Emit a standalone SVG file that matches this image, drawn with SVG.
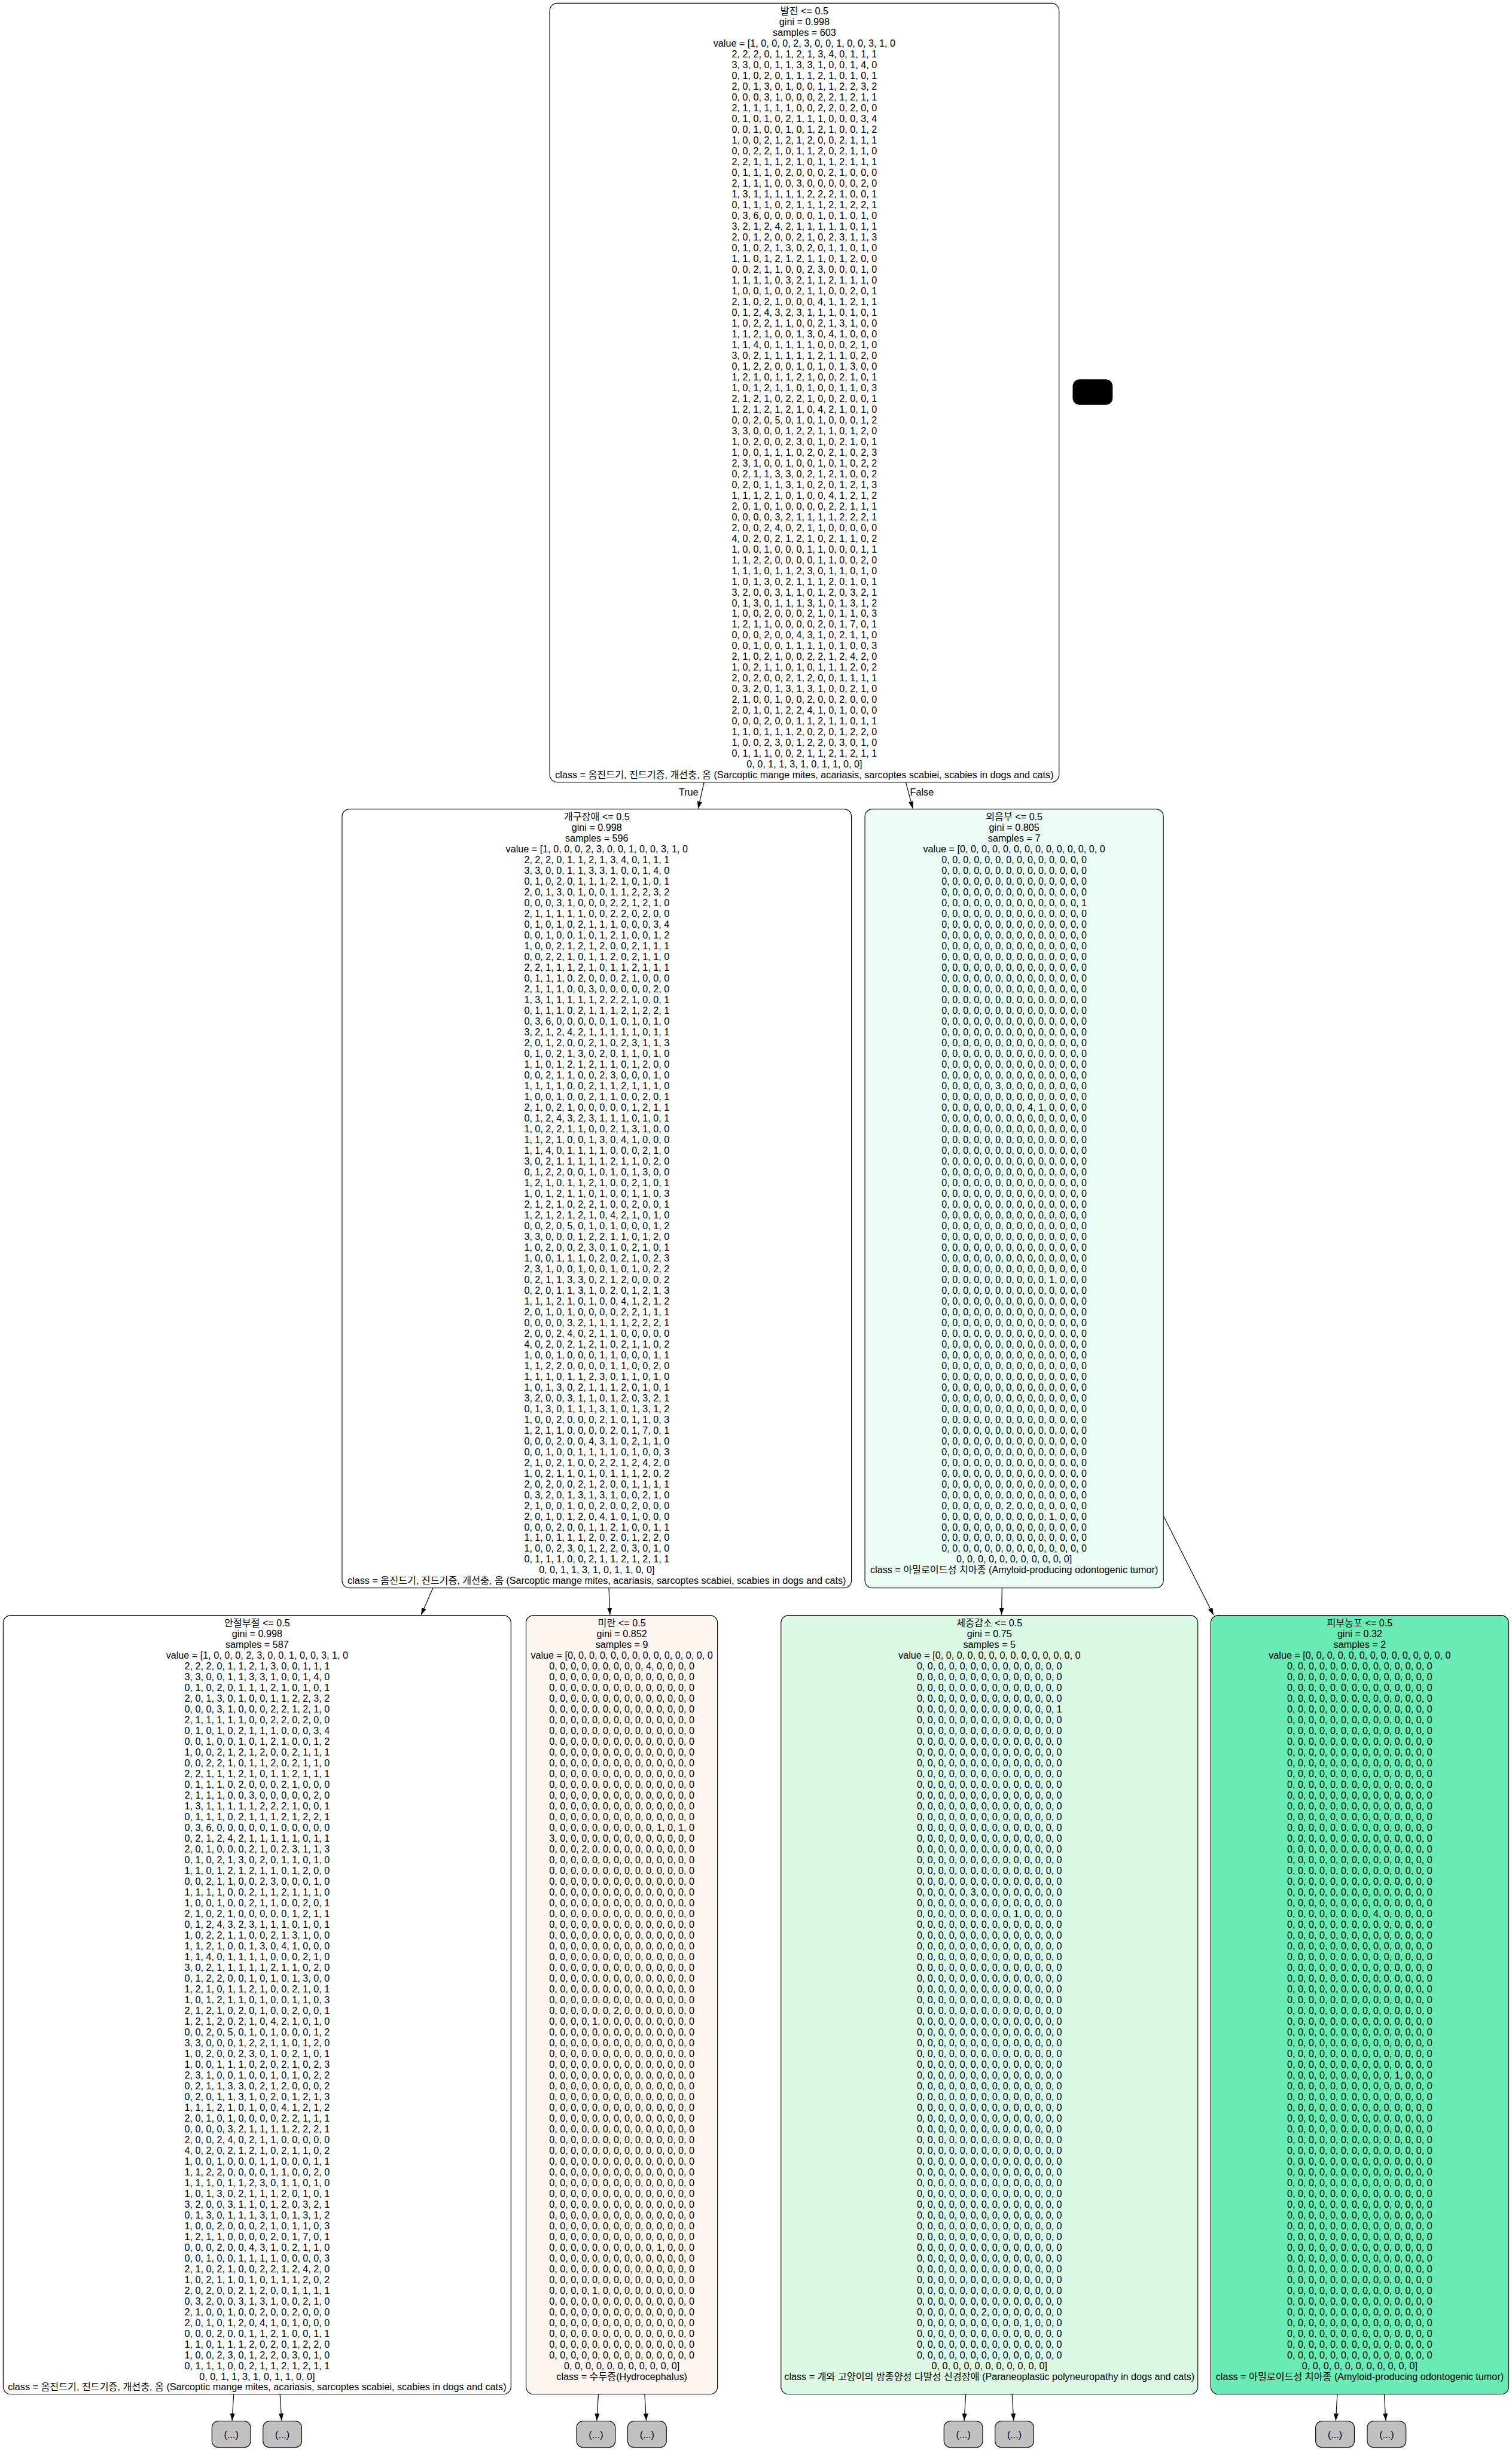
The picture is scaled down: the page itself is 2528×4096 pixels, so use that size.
<svg xmlns="http://www.w3.org/2000/svg" width="2528" height="4096" viewBox="0 0 2528 4096">
<style>
.t{font-family:"Liberation Sans","Noto Sans CJK KR",sans-serif;font-size:18px;text-anchor:middle;fill:#000}
.lb{font-family:"Liberation Sans","Noto Sans CJK KR",sans-serif;font-size:18px;fill:#000}
.nb{stroke:#000;stroke-width:1.3}
.gr{fill:#c0c0c0;stroke:#000;stroke-width:1.3}
.e{stroke:#000;stroke-width:1.3;fill:none;marker-end:url(#ah)}
</style>
<defs>
<marker id="ah" viewBox="0 0 10 7" refX="10" refY="3.5" markerWidth="13" markerHeight="9.1" markerUnits="userSpaceOnUse" orient="auto"><path d="M0,0 L10,3.5 L0,7 z" fill="#000"/></marker>
</defs>
<rect width="2528" height="4096" fill="#ffffff"/>
<g transform="scale(0.8993)">
<g id="connectors">
<path class="e" d="M1309,1454 L1298,1503"/>
<path class="e" d="M1684,1454 L1697,1503"/>
<text class="lb" x="1262" y="1479">True</text>
<text class="lb" x="1692" y="1479">False</text>
<path class="e" d="M805,2952 L783,3002"/>
<path class="e" d="M1132,2952 L1134,3002"/>
<path class="e" d="M1863,2952 L1862,3002"/>
<path class="e" d="M2163,2818 L2256,3002"/>
<path class="e" d="M434.5,4451 L431.5,4500"/>
<path class="e" d="M520.6,4451 L523.5,4500"/>
<path class="e" d="M1112.5,4451 L1109.5,4500"/>
<path class="e" d="M1198.6,4451 L1201.5,4500"/>
<path class="e" d="M1795.6,4451 L1792.5,4500"/>
<path class="e" d="M1881.7,4451 L1884.6,4500"/>
<path class="e" d="M2486.3,4451 L2483.4,4500"/>
<path class="e" d="M2573.4,4451 L2576.4,4500"/>
</g>
<g id="node0">
<rect class="nb" x="1022" y="6" width="947" height="1448" rx="14" fill="#ffffff"/>
<text class="t" x="1495.5" y="27"><tspan x="1495.5">발진 &lt;= 0.5</tspan
><tspan x="1495.5" dy="20">gini = 0.998</tspan
><tspan x="1495.5" dy="20">samples = 603</tspan
><tspan x="1495.5" dy="20">value = [1, 0, 0, 0, 2, 3, 0, 0, 1, 0, 0, 3, 1, 0</tspan
><tspan x="1495.5" dy="20">2, 2, 2, 0, 1, 1, 2, 1, 3, 4, 0, 1, 1, 1</tspan
><tspan x="1495.5" dy="20">3, 3, 0, 0, 1, 1, 3, 3, 1, 0, 0, 1, 4, 0</tspan
><tspan x="1495.5" dy="20">0, 1, 0, 2, 0, 1, 1, 1, 2, 1, 0, 1, 0, 1</tspan
><tspan x="1495.5" dy="20">2, 0, 1, 3, 0, 1, 0, 0, 1, 1, 2, 2, 3, 2</tspan
><tspan x="1495.5" dy="20">0, 0, 0, 3, 1, 0, 0, 0, 2, 2, 1, 2, 1, 1</tspan
><tspan x="1495.5" dy="20">2, 1, 1, 1, 1, 1, 0, 0, 2, 2, 0, 2, 0, 0</tspan
><tspan x="1495.5" dy="20">0, 1, 0, 1, 0, 2, 1, 1, 1, 0, 0, 0, 3, 4</tspan
><tspan x="1495.5" dy="20">0, 0, 1, 0, 0, 1, 0, 1, 2, 1, 0, 0, 1, 2</tspan
><tspan x="1495.5" dy="20">1, 0, 0, 2, 1, 2, 1, 2, 0, 0, 2, 1, 1, 1</tspan
><tspan x="1495.5" dy="20">0, 0, 2, 2, 1, 0, 1, 1, 2, 0, 2, 1, 1, 0</tspan
><tspan x="1495.5" dy="20">2, 2, 1, 1, 1, 2, 1, 0, 1, 1, 2, 1, 1, 1</tspan
><tspan x="1495.5" dy="20">0, 1, 1, 1, 0, 2, 0, 0, 0, 2, 1, 0, 0, 0</tspan
><tspan x="1495.5" dy="20">2, 1, 1, 1, 0, 0, 3, 0, 0, 0, 0, 0, 2, 0</tspan
><tspan x="1495.5" dy="20">1, 3, 1, 1, 1, 1, 1, 2, 2, 2, 1, 0, 0, 1</tspan
><tspan x="1495.5" dy="20">0, 1, 1, 1, 0, 2, 1, 1, 1, 2, 1, 2, 2, 1</tspan
><tspan x="1495.5" dy="20">0, 3, 6, 0, 0, 0, 0, 0, 1, 0, 1, 0, 1, 0</tspan
><tspan x="1495.5" dy="20">3, 2, 1, 2, 4, 2, 1, 1, 1, 1, 1, 0, 1, 1</tspan
><tspan x="1495.5" dy="20">2, 0, 1, 2, 0, 0, 2, 1, 0, 2, 3, 1, 1, 3</tspan
><tspan x="1495.5" dy="20">0, 1, 0, 2, 1, 3, 0, 2, 0, 1, 1, 0, 1, 0</tspan
><tspan x="1495.5" dy="20">1, 1, 0, 1, 2, 1, 2, 1, 1, 0, 1, 2, 0, 0</tspan
><tspan x="1495.5" dy="20">0, 0, 2, 1, 1, 0, 0, 2, 3, 0, 0, 0, 1, 0</tspan
><tspan x="1495.5" dy="20">1, 1, 1, 1, 0, 3, 2, 1, 1, 2, 1, 1, 1, 0</tspan
><tspan x="1495.5" dy="20">1, 0, 0, 1, 0, 0, 2, 1, 1, 0, 0, 2, 0, 1</tspan
><tspan x="1495.5" dy="20">2, 1, 0, 2, 1, 0, 0, 0, 4, 1, 1, 2, 1, 1</tspan
><tspan x="1495.5" dy="20">0, 1, 2, 4, 3, 2, 3, 1, 1, 1, 0, 1, 0, 1</tspan
><tspan x="1495.5" dy="20">1, 0, 2, 2, 1, 1, 0, 0, 2, 1, 3, 1, 0, 0</tspan
><tspan x="1495.5" dy="20">1, 1, 2, 1, 0, 0, 1, 3, 0, 4, 1, 0, 0, 0</tspan
><tspan x="1495.5" dy="20">1, 1, 4, 0, 1, 1, 1, 1, 0, 0, 0, 2, 1, 0</tspan
><tspan x="1495.5" dy="20">3, 0, 2, 1, 1, 1, 1, 1, 2, 1, 1, 0, 2, 0</tspan
><tspan x="1495.5" dy="20">0, 1, 2, 2, 0, 0, 1, 0, 1, 0, 1, 3, 0, 0</tspan
><tspan x="1495.5" dy="20">1, 2, 1, 0, 1, 1, 2, 1, 0, 0, 2, 1, 0, 1</tspan
><tspan x="1495.5" dy="20">1, 0, 1, 2, 1, 1, 0, 1, 0, 0, 1, 1, 0, 3</tspan
><tspan x="1495.5" dy="20">2, 1, 2, 1, 0, 2, 2, 1, 0, 0, 2, 0, 0, 1</tspan
><tspan x="1495.5" dy="20">1, 2, 1, 2, 1, 2, 1, 0, 4, 2, 1, 0, 1, 0</tspan
><tspan x="1495.5" dy="20">0, 0, 2, 0, 5, 0, 1, 0, 1, 0, 0, 0, 1, 2</tspan
><tspan x="1495.5" dy="20">3, 3, 0, 0, 0, 1, 2, 2, 1, 1, 0, 1, 2, 0</tspan
><tspan x="1495.5" dy="20">1, 0, 2, 0, 0, 2, 3, 0, 1, 0, 2, 1, 0, 1</tspan
><tspan x="1495.5" dy="20">1, 0, 0, 1, 1, 1, 0, 2, 0, 2, 1, 0, 2, 3</tspan
><tspan x="1495.5" dy="20">2, 3, 1, 0, 0, 1, 0, 0, 1, 0, 1, 0, 2, 2</tspan
><tspan x="1495.5" dy="20">0, 2, 1, 1, 3, 3, 0, 2, 1, 2, 1, 0, 0, 2</tspan
><tspan x="1495.5" dy="20">0, 2, 0, 1, 1, 3, 1, 0, 2, 0, 1, 2, 1, 3</tspan
><tspan x="1495.5" dy="20">1, 1, 1, 2, 1, 0, 1, 0, 0, 4, 1, 2, 1, 2</tspan
><tspan x="1495.5" dy="20">2, 0, 1, 0, 1, 0, 0, 0, 0, 2, 2, 1, 1, 1</tspan
><tspan x="1495.5" dy="20">0, 0, 0, 0, 3, 2, 1, 1, 1, 1, 2, 2, 2, 1</tspan
><tspan x="1495.5" dy="20">2, 0, 0, 2, 4, 0, 2, 1, 1, 0, 0, 0, 0, 0</tspan
><tspan x="1495.5" dy="20">4, 0, 2, 0, 2, 1, 2, 1, 0, 2, 1, 1, 0, 2</tspan
><tspan x="1495.5" dy="20">1, 0, 0, 1, 0, 0, 0, 1, 1, 0, 0, 0, 1, 1</tspan
><tspan x="1495.5" dy="20">1, 1, 2, 2, 0, 0, 0, 0, 1, 1, 0, 0, 2, 0</tspan
><tspan x="1495.5" dy="20">1, 1, 1, 0, 1, 1, 2, 3, 0, 1, 1, 0, 1, 0</tspan
><tspan x="1495.5" dy="20">1, 0, 1, 3, 0, 2, 1, 1, 1, 2, 0, 1, 0, 1</tspan
><tspan x="1495.5" dy="20">3, 2, 0, 0, 3, 1, 1, 0, 1, 2, 0, 3, 2, 1</tspan
><tspan x="1495.5" dy="20">0, 1, 3, 0, 1, 1, 1, 3, 1, 0, 1, 3, 1, 2</tspan
><tspan x="1495.5" dy="20">1, 0, 0, 2, 0, 0, 0, 2, 1, 0, 1, 1, 0, 3</tspan
><tspan x="1495.5" dy="20">1, 2, 1, 1, 0, 0, 0, 0, 2, 0, 1, 7, 0, 1</tspan
><tspan x="1495.5" dy="20">0, 0, 0, 2, 0, 0, 4, 3, 1, 0, 2, 1, 1, 0</tspan
><tspan x="1495.5" dy="20">0, 0, 1, 0, 0, 1, 1, 1, 1, 0, 1, 0, 0, 3</tspan
><tspan x="1495.5" dy="20">2, 1, 0, 2, 1, 0, 0, 2, 2, 1, 2, 4, 2, 0</tspan
><tspan x="1495.5" dy="20">1, 0, 2, 1, 1, 0, 1, 0, 1, 1, 1, 2, 0, 2</tspan
><tspan x="1495.5" dy="20">2, 0, 2, 0, 0, 2, 1, 2, 0, 0, 1, 1, 1, 1</tspan
><tspan x="1495.5" dy="20">0, 3, 2, 0, 1, 3, 1, 3, 1, 0, 0, 2, 1, 0</tspan
><tspan x="1495.5" dy="20">2, 1, 0, 0, 1, 0, 0, 2, 0, 0, 2, 0, 0, 0</tspan
><tspan x="1495.5" dy="20">2, 0, 1, 0, 1, 2, 2, 4, 1, 0, 1, 0, 0, 0</tspan
><tspan x="1495.5" dy="20">0, 0, 0, 2, 0, 0, 1, 1, 2, 1, 1, 0, 1, 1</tspan
><tspan x="1495.5" dy="20">1, 1, 0, 1, 1, 1, 2, 0, 2, 0, 1, 2, 2, 0</tspan
><tspan x="1495.5" dy="20">1, 0, 0, 2, 3, 0, 1, 2, 2, 0, 3, 0, 1, 0</tspan
><tspan x="1495.5" dy="20">0, 1, 1, 1, 0, 0, 2, 1, 1, 2, 1, 2, 1, 1</tspan
><tspan x="1495.5" dy="20">0, 0, 1, 1, 3, 1, 0, 1, 1, 0, 0]</tspan
><tspan x="1495.5" dy="20">class = 옴진드기, 진드기증, 개선충, 옴 (Sarcoptic mange mites, acariasis, sarcoptes scabiei, scabies in dogs and cats)</tspan
></text>
</g>
<g id="node_black">
<rect x="1995" y="706" width="73" height="46" rx="12" fill="#000000" stroke="#000" stroke-width="1.3"/>
</g>
<g id="node1">
<rect class="nb" x="636" y="1504" width="947" height="1448" rx="14" fill="#ffffff"/>
<text class="t" x="1109.5" y="1525"><tspan x="1109.5">개구장애 &lt;= 0.5</tspan
><tspan x="1109.5" dy="20">gini = 0.998</tspan
><tspan x="1109.5" dy="20">samples = 596</tspan
><tspan x="1109.5" dy="20">value = [1, 0, 0, 0, 2, 3, 0, 0, 1, 0, 0, 3, 1, 0</tspan
><tspan x="1109.5" dy="20">2, 2, 2, 0, 1, 1, 2, 1, 3, 4, 0, 1, 1, 1</tspan
><tspan x="1109.5" dy="20">3, 3, 0, 0, 1, 1, 3, 3, 1, 0, 0, 1, 4, 0</tspan
><tspan x="1109.5" dy="20">0, 1, 0, 2, 0, 1, 1, 1, 2, 1, 0, 1, 0, 1</tspan
><tspan x="1109.5" dy="20">2, 0, 1, 3, 0, 1, 0, 0, 1, 1, 2, 2, 3, 2</tspan
><tspan x="1109.5" dy="20">0, 0, 0, 3, 1, 0, 0, 0, 2, 2, 1, 2, 1, 0</tspan
><tspan x="1109.5" dy="20">2, 1, 1, 1, 1, 1, 0, 0, 2, 2, 0, 2, 0, 0</tspan
><tspan x="1109.5" dy="20">0, 1, 0, 1, 0, 2, 1, 1, 1, 0, 0, 0, 3, 4</tspan
><tspan x="1109.5" dy="20">0, 0, 1, 0, 0, 1, 0, 1, 2, 1, 0, 0, 1, 2</tspan
><tspan x="1109.5" dy="20">1, 0, 0, 2, 1, 2, 1, 2, 0, 0, 2, 1, 1, 1</tspan
><tspan x="1109.5" dy="20">0, 0, 2, 2, 1, 0, 1, 1, 2, 0, 2, 1, 1, 0</tspan
><tspan x="1109.5" dy="20">2, 2, 1, 1, 1, 2, 1, 0, 1, 1, 2, 1, 1, 1</tspan
><tspan x="1109.5" dy="20">0, 1, 1, 1, 0, 2, 0, 0, 0, 2, 1, 0, 0, 0</tspan
><tspan x="1109.5" dy="20">2, 1, 1, 1, 0, 0, 3, 0, 0, 0, 0, 0, 2, 0</tspan
><tspan x="1109.5" dy="20">1, 3, 1, 1, 1, 1, 1, 2, 2, 2, 1, 0, 0, 1</tspan
><tspan x="1109.5" dy="20">0, 1, 1, 1, 0, 2, 1, 1, 1, 2, 1, 2, 2, 1</tspan
><tspan x="1109.5" dy="20">0, 3, 6, 0, 0, 0, 0, 0, 1, 0, 1, 0, 1, 0</tspan
><tspan x="1109.5" dy="20">3, 2, 1, 2, 4, 2, 1, 1, 1, 1, 1, 0, 1, 1</tspan
><tspan x="1109.5" dy="20">2, 0, 1, 2, 0, 0, 2, 1, 0, 2, 3, 1, 1, 3</tspan
><tspan x="1109.5" dy="20">0, 1, 0, 2, 1, 3, 0, 2, 0, 1, 1, 0, 1, 0</tspan
><tspan x="1109.5" dy="20">1, 1, 0, 1, 2, 1, 2, 1, 1, 0, 1, 2, 0, 0</tspan
><tspan x="1109.5" dy="20">0, 0, 2, 1, 1, 0, 0, 2, 3, 0, 0, 0, 1, 0</tspan
><tspan x="1109.5" dy="20">1, 1, 1, 1, 0, 0, 2, 1, 1, 2, 1, 1, 1, 0</tspan
><tspan x="1109.5" dy="20">1, 0, 0, 1, 0, 0, 2, 1, 1, 0, 0, 2, 0, 1</tspan
><tspan x="1109.5" dy="20">2, 1, 0, 2, 1, 0, 0, 0, 0, 0, 1, 2, 1, 1</tspan
><tspan x="1109.5" dy="20">0, 1, 2, 4, 3, 2, 3, 1, 1, 1, 0, 1, 0, 1</tspan
><tspan x="1109.5" dy="20">1, 0, 2, 2, 1, 1, 0, 0, 2, 1, 3, 1, 0, 0</tspan
><tspan x="1109.5" dy="20">1, 1, 2, 1, 0, 0, 1, 3, 0, 4, 1, 0, 0, 0</tspan
><tspan x="1109.5" dy="20">1, 1, 4, 0, 1, 1, 1, 1, 0, 0, 0, 2, 1, 0</tspan
><tspan x="1109.5" dy="20">3, 0, 2, 1, 1, 1, 1, 1, 2, 1, 1, 0, 2, 0</tspan
><tspan x="1109.5" dy="20">0, 1, 2, 2, 0, 0, 1, 0, 1, 0, 1, 3, 0, 0</tspan
><tspan x="1109.5" dy="20">1, 2, 1, 0, 1, 1, 2, 1, 0, 0, 2, 1, 0, 1</tspan
><tspan x="1109.5" dy="20">1, 0, 1, 2, 1, 1, 0, 1, 0, 0, 1, 1, 0, 3</tspan
><tspan x="1109.5" dy="20">2, 1, 2, 1, 0, 2, 2, 1, 0, 0, 2, 0, 0, 1</tspan
><tspan x="1109.5" dy="20">1, 2, 1, 2, 1, 2, 1, 0, 4, 2, 1, 0, 1, 0</tspan
><tspan x="1109.5" dy="20">0, 0, 2, 0, 5, 0, 1, 0, 1, 0, 0, 0, 1, 2</tspan
><tspan x="1109.5" dy="20">3, 3, 0, 0, 0, 1, 2, 2, 1, 1, 0, 1, 2, 0</tspan
><tspan x="1109.5" dy="20">1, 0, 2, 0, 0, 2, 3, 0, 1, 0, 2, 1, 0, 1</tspan
><tspan x="1109.5" dy="20">1, 0, 0, 1, 1, 1, 0, 2, 0, 2, 1, 0, 2, 3</tspan
><tspan x="1109.5" dy="20">2, 3, 1, 0, 0, 1, 0, 0, 1, 0, 1, 0, 2, 2</tspan
><tspan x="1109.5" dy="20">0, 2, 1, 1, 3, 3, 0, 2, 1, 2, 0, 0, 0, 2</tspan
><tspan x="1109.5" dy="20">0, 2, 0, 1, 1, 3, 1, 0, 2, 0, 1, 2, 1, 3</tspan
><tspan x="1109.5" dy="20">1, 1, 1, 2, 1, 0, 1, 0, 0, 4, 1, 2, 1, 2</tspan
><tspan x="1109.5" dy="20">2, 0, 1, 0, 1, 0, 0, 0, 0, 2, 2, 1, 1, 1</tspan
><tspan x="1109.5" dy="20">0, 0, 0, 0, 3, 2, 1, 1, 1, 1, 2, 2, 2, 1</tspan
><tspan x="1109.5" dy="20">2, 0, 0, 2, 4, 0, 2, 1, 1, 0, 0, 0, 0, 0</tspan
><tspan x="1109.5" dy="20">4, 0, 2, 0, 2, 1, 2, 1, 0, 2, 1, 1, 0, 2</tspan
><tspan x="1109.5" dy="20">1, 0, 0, 1, 0, 0, 0, 1, 1, 0, 0, 0, 1, 1</tspan
><tspan x="1109.5" dy="20">1, 1, 2, 2, 0, 0, 0, 0, 1, 1, 0, 0, 2, 0</tspan
><tspan x="1109.5" dy="20">1, 1, 1, 0, 1, 1, 2, 3, 0, 1, 1, 0, 1, 0</tspan
><tspan x="1109.5" dy="20">1, 0, 1, 3, 0, 2, 1, 1, 1, 2, 0, 1, 0, 1</tspan
><tspan x="1109.5" dy="20">3, 2, 0, 0, 3, 1, 1, 0, 1, 2, 0, 3, 2, 1</tspan
><tspan x="1109.5" dy="20">0, 1, 3, 0, 1, 1, 1, 3, 1, 0, 1, 3, 1, 2</tspan
><tspan x="1109.5" dy="20">1, 0, 0, 2, 0, 0, 0, 2, 1, 0, 1, 1, 0, 3</tspan
><tspan x="1109.5" dy="20">1, 2, 1, 1, 0, 0, 0, 0, 2, 0, 1, 7, 0, 1</tspan
><tspan x="1109.5" dy="20">0, 0, 0, 2, 0, 0, 4, 3, 1, 0, 2, 1, 1, 0</tspan
><tspan x="1109.5" dy="20">0, 0, 1, 0, 0, 1, 1, 1, 1, 0, 1, 0, 0, 3</tspan
><tspan x="1109.5" dy="20">2, 1, 0, 2, 1, 0, 0, 2, 2, 1, 2, 4, 2, 0</tspan
><tspan x="1109.5" dy="20">1, 0, 2, 1, 1, 0, 1, 0, 1, 1, 1, 2, 0, 2</tspan
><tspan x="1109.5" dy="20">2, 0, 2, 0, 0, 2, 1, 2, 0, 0, 1, 1, 1, 1</tspan
><tspan x="1109.5" dy="20">0, 3, 2, 0, 1, 3, 1, 3, 1, 0, 0, 2, 1, 0</tspan
><tspan x="1109.5" dy="20">2, 1, 0, 0, 1, 0, 0, 2, 0, 0, 2, 0, 0, 0</tspan
><tspan x="1109.5" dy="20">2, 0, 1, 0, 1, 2, 0, 4, 1, 0, 1, 0, 0, 0</tspan
><tspan x="1109.5" dy="20">0, 0, 0, 2, 0, 0, 1, 1, 2, 1, 0, 0, 1, 1</tspan
><tspan x="1109.5" dy="20">1, 1, 0, 1, 1, 1, 2, 0, 2, 0, 1, 2, 2, 0</tspan
><tspan x="1109.5" dy="20">1, 0, 0, 2, 3, 0, 1, 2, 2, 0, 3, 0, 1, 0</tspan
><tspan x="1109.5" dy="20">0, 1, 1, 1, 0, 0, 2, 1, 1, 2, 1, 2, 1, 1</tspan
><tspan x="1109.5" dy="20">0, 0, 1, 1, 3, 1, 0, 1, 1, 0, 0]</tspan
><tspan x="1109.5" dy="20">class = 옴진드기, 진드기증, 개선충, 옴 (Sarcoptic mange mites, acariasis, sarcoptes scabiei, scabies in dogs and cats)</tspan
></text>
</g>
<g id="node2">
<rect class="nb" x="1608" y="1504" width="555" height="1448" rx="14" fill="#ebfcf5"/>
<text class="t" x="1885.5" y="1525"><tspan x="1885.5">외음부 &lt;= 0.5</tspan
><tspan x="1885.5" dy="20">gini = 0.805</tspan
><tspan x="1885.5" dy="20">samples = 7</tspan
><tspan x="1885.5" dy="20">value = [0, 0, 0, 0, 0, 0, 0, 0, 0, 0, 0, 0, 0, 0</tspan
><tspan x="1885.5" dy="20">0, 0, 0, 0, 0, 0, 0, 0, 0, 0, 0, 0, 0, 0</tspan
><tspan x="1885.5" dy="20">0, 0, 0, 0, 0, 0, 0, 0, 0, 0, 0, 0, 0, 0</tspan
><tspan x="1885.5" dy="20">0, 0, 0, 0, 0, 0, 0, 0, 0, 0, 0, 0, 0, 0</tspan
><tspan x="1885.5" dy="20">0, 0, 0, 0, 0, 0, 0, 0, 0, 0, 0, 0, 0, 0</tspan
><tspan x="1885.5" dy="20">0, 0, 0, 0, 0, 0, 0, 0, 0, 0, 0, 0, 0, 1</tspan
><tspan x="1885.5" dy="20">0, 0, 0, 0, 0, 0, 0, 0, 0, 0, 0, 0, 0, 0</tspan
><tspan x="1885.5" dy="20">0, 0, 0, 0, 0, 0, 0, 0, 0, 0, 0, 0, 0, 0</tspan
><tspan x="1885.5" dy="20">0, 0, 0, 0, 0, 0, 0, 0, 0, 0, 0, 0, 0, 0</tspan
><tspan x="1885.5" dy="20">0, 0, 0, 0, 0, 0, 0, 0, 0, 0, 0, 0, 0, 0</tspan
><tspan x="1885.5" dy="20">0, 0, 0, 0, 0, 0, 0, 0, 0, 0, 0, 0, 0, 0</tspan
><tspan x="1885.5" dy="20">0, 0, 0, 0, 0, 0, 0, 0, 0, 0, 0, 0, 0, 0</tspan
><tspan x="1885.5" dy="20">0, 0, 0, 0, 0, 0, 0, 0, 0, 0, 0, 0, 0, 0</tspan
><tspan x="1885.5" dy="20">0, 0, 0, 0, 0, 0, 0, 0, 0, 0, 0, 0, 0, 0</tspan
><tspan x="1885.5" dy="20">0, 0, 0, 0, 0, 0, 0, 0, 0, 0, 0, 0, 0, 0</tspan
><tspan x="1885.5" dy="20">0, 0, 0, 0, 0, 0, 0, 0, 0, 0, 0, 0, 0, 0</tspan
><tspan x="1885.5" dy="20">0, 0, 0, 0, 0, 0, 0, 0, 0, 0, 0, 0, 0, 0</tspan
><tspan x="1885.5" dy="20">0, 0, 0, 0, 0, 0, 0, 0, 0, 0, 0, 0, 0, 0</tspan
><tspan x="1885.5" dy="20">0, 0, 0, 0, 0, 0, 0, 0, 0, 0, 0, 0, 0, 0</tspan
><tspan x="1885.5" dy="20">0, 0, 0, 0, 0, 0, 0, 0, 0, 0, 0, 0, 0, 0</tspan
><tspan x="1885.5" dy="20">0, 0, 0, 0, 0, 0, 0, 0, 0, 0, 0, 0, 0, 0</tspan
><tspan x="1885.5" dy="20">0, 0, 0, 0, 0, 0, 0, 0, 0, 0, 0, 0, 0, 0</tspan
><tspan x="1885.5" dy="20">0, 0, 0, 0, 0, 3, 0, 0, 0, 0, 0, 0, 0, 0</tspan
><tspan x="1885.5" dy="20">0, 0, 0, 0, 0, 0, 0, 0, 0, 0, 0, 0, 0, 0</tspan
><tspan x="1885.5" dy="20">0, 0, 0, 0, 0, 0, 0, 0, 4, 1, 0, 0, 0, 0</tspan
><tspan x="1885.5" dy="20">0, 0, 0, 0, 0, 0, 0, 0, 0, 0, 0, 0, 0, 0</tspan
><tspan x="1885.5" dy="20">0, 0, 0, 0, 0, 0, 0, 0, 0, 0, 0, 0, 0, 0</tspan
><tspan x="1885.5" dy="20">0, 0, 0, 0, 0, 0, 0, 0, 0, 0, 0, 0, 0, 0</tspan
><tspan x="1885.5" dy="20">0, 0, 0, 0, 0, 0, 0, 0, 0, 0, 0, 0, 0, 0</tspan
><tspan x="1885.5" dy="20">0, 0, 0, 0, 0, 0, 0, 0, 0, 0, 0, 0, 0, 0</tspan
><tspan x="1885.5" dy="20">0, 0, 0, 0, 0, 0, 0, 0, 0, 0, 0, 0, 0, 0</tspan
><tspan x="1885.5" dy="20">0, 0, 0, 0, 0, 0, 0, 0, 0, 0, 0, 0, 0, 0</tspan
><tspan x="1885.5" dy="20">0, 0, 0, 0, 0, 0, 0, 0, 0, 0, 0, 0, 0, 0</tspan
><tspan x="1885.5" dy="20">0, 0, 0, 0, 0, 0, 0, 0, 0, 0, 0, 0, 0, 0</tspan
><tspan x="1885.5" dy="20">0, 0, 0, 0, 0, 0, 0, 0, 0, 0, 0, 0, 0, 0</tspan
><tspan x="1885.5" dy="20">0, 0, 0, 0, 0, 0, 0, 0, 0, 0, 0, 0, 0, 0</tspan
><tspan x="1885.5" dy="20">0, 0, 0, 0, 0, 0, 0, 0, 0, 0, 0, 0, 0, 0</tspan
><tspan x="1885.5" dy="20">0, 0, 0, 0, 0, 0, 0, 0, 0, 0, 0, 0, 0, 0</tspan
><tspan x="1885.5" dy="20">0, 0, 0, 0, 0, 0, 0, 0, 0, 0, 0, 0, 0, 0</tspan
><tspan x="1885.5" dy="20">0, 0, 0, 0, 0, 0, 0, 0, 0, 0, 0, 0, 0, 0</tspan
><tspan x="1885.5" dy="20">0, 0, 0, 0, 0, 0, 0, 0, 0, 0, 1, 0, 0, 0</tspan
><tspan x="1885.5" dy="20">0, 0, 0, 0, 0, 0, 0, 0, 0, 0, 0, 0, 0, 0</tspan
><tspan x="1885.5" dy="20">0, 0, 0, 0, 0, 0, 0, 0, 0, 0, 0, 0, 0, 0</tspan
><tspan x="1885.5" dy="20">0, 0, 0, 0, 0, 0, 0, 0, 0, 0, 0, 0, 0, 0</tspan
><tspan x="1885.5" dy="20">0, 0, 0, 0, 0, 0, 0, 0, 0, 0, 0, 0, 0, 0</tspan
><tspan x="1885.5" dy="20">0, 0, 0, 0, 0, 0, 0, 0, 0, 0, 0, 0, 0, 0</tspan
><tspan x="1885.5" dy="20">0, 0, 0, 0, 0, 0, 0, 0, 0, 0, 0, 0, 0, 0</tspan
><tspan x="1885.5" dy="20">0, 0, 0, 0, 0, 0, 0, 0, 0, 0, 0, 0, 0, 0</tspan
><tspan x="1885.5" dy="20">0, 0, 0, 0, 0, 0, 0, 0, 0, 0, 0, 0, 0, 0</tspan
><tspan x="1885.5" dy="20">0, 0, 0, 0, 0, 0, 0, 0, 0, 0, 0, 0, 0, 0</tspan
><tspan x="1885.5" dy="20">0, 0, 0, 0, 0, 0, 0, 0, 0, 0, 0, 0, 0, 0</tspan
><tspan x="1885.5" dy="20">0, 0, 0, 0, 0, 0, 0, 0, 0, 0, 0, 0, 0, 0</tspan
><tspan x="1885.5" dy="20">0, 0, 0, 0, 0, 0, 0, 0, 0, 0, 0, 0, 0, 0</tspan
><tspan x="1885.5" dy="20">0, 0, 0, 0, 0, 0, 0, 0, 0, 0, 0, 0, 0, 0</tspan
><tspan x="1885.5" dy="20">0, 0, 0, 0, 0, 0, 0, 0, 0, 0, 0, 0, 0, 0</tspan
><tspan x="1885.5" dy="20">0, 0, 0, 0, 0, 0, 0, 0, 0, 0, 0, 0, 0, 0</tspan
><tspan x="1885.5" dy="20">0, 0, 0, 0, 0, 0, 0, 0, 0, 0, 0, 0, 0, 0</tspan
><tspan x="1885.5" dy="20">0, 0, 0, 0, 0, 0, 0, 0, 0, 0, 0, 0, 0, 0</tspan
><tspan x="1885.5" dy="20">0, 0, 0, 0, 0, 0, 0, 0, 0, 0, 0, 0, 0, 0</tspan
><tspan x="1885.5" dy="20">0, 0, 0, 0, 0, 0, 0, 0, 0, 0, 0, 0, 0, 0</tspan
><tspan x="1885.5" dy="20">0, 0, 0, 0, 0, 0, 0, 0, 0, 0, 0, 0, 0, 0</tspan
><tspan x="1885.5" dy="20">0, 0, 0, 0, 0, 0, 2, 0, 0, 0, 0, 0, 0, 0</tspan
><tspan x="1885.5" dy="20">0, 0, 0, 0, 0, 0, 0, 0, 0, 0, 1, 0, 0, 0</tspan
><tspan x="1885.5" dy="20">0, 0, 0, 0, 0, 0, 0, 0, 0, 0, 0, 0, 0, 0</tspan
><tspan x="1885.5" dy="20">0, 0, 0, 0, 0, 0, 0, 0, 0, 0, 0, 0, 0, 0</tspan
><tspan x="1885.5" dy="20">0, 0, 0, 0, 0, 0, 0, 0, 0, 0, 0, 0, 0, 0</tspan
><tspan x="1885.5" dy="20">0, 0, 0, 0, 0, 0, 0, 0, 0, 0, 0]</tspan
><tspan x="1885.5" dy="20">class = 아밀로이드성 치아종 (Amyloid-producing odontogenic tumor)</tspan
></text>
</g>
<g id="node3">
<rect class="nb" x="6" y="3003" width="944" height="1448" rx="14" fill="#ffffff"/>
<text class="t" x="478" y="3024"><tspan x="478">안절부절 &lt;= 0.5</tspan
><tspan x="478" dy="20">gini = 0.998</tspan
><tspan x="478" dy="20">samples = 587</tspan
><tspan x="478" dy="20">value = [1, 0, 0, 0, 2, 3, 0, 0, 1, 0, 0, 3, 1, 0</tspan
><tspan x="478" dy="20">2, 2, 2, 0, 1, 1, 2, 1, 3, 0, 0, 1, 1, 1</tspan
><tspan x="478" dy="20">3, 3, 0, 0, 1, 1, 3, 3, 1, 0, 0, 1, 4, 0</tspan
><tspan x="478" dy="20">0, 1, 0, 2, 0, 1, 1, 1, 2, 1, 0, 1, 0, 1</tspan
><tspan x="478" dy="20">2, 0, 1, 3, 0, 1, 0, 0, 1, 1, 2, 2, 3, 2</tspan
><tspan x="478" dy="20">0, 0, 0, 3, 1, 0, 0, 0, 2, 2, 1, 2, 1, 0</tspan
><tspan x="478" dy="20">2, 1, 1, 1, 1, 1, 0, 0, 2, 2, 0, 2, 0, 0</tspan
><tspan x="478" dy="20">0, 1, 0, 1, 0, 2, 1, 1, 1, 0, 0, 0, 3, 4</tspan
><tspan x="478" dy="20">0, 0, 1, 0, 0, 1, 0, 1, 2, 1, 0, 0, 1, 2</tspan
><tspan x="478" dy="20">1, 0, 0, 2, 1, 2, 1, 2, 0, 0, 2, 1, 1, 1</tspan
><tspan x="478" dy="20">0, 0, 2, 2, 1, 0, 1, 1, 2, 0, 2, 1, 1, 0</tspan
><tspan x="478" dy="20">2, 2, 1, 1, 1, 2, 1, 0, 1, 1, 2, 1, 1, 1</tspan
><tspan x="478" dy="20">0, 1, 1, 1, 0, 2, 0, 0, 0, 2, 1, 0, 0, 0</tspan
><tspan x="478" dy="20">2, 1, 1, 1, 0, 0, 3, 0, 0, 0, 0, 0, 2, 0</tspan
><tspan x="478" dy="20">1, 3, 1, 1, 1, 1, 1, 2, 2, 2, 1, 0, 0, 1</tspan
><tspan x="478" dy="20">0, 1, 1, 1, 0, 2, 1, 1, 1, 2, 1, 2, 2, 1</tspan
><tspan x="478" dy="20">0, 3, 6, 0, 0, 0, 0, 0, 1, 0, 0, 0, 0, 0</tspan
><tspan x="478" dy="20">0, 2, 1, 2, 4, 2, 1, 1, 1, 1, 1, 0, 1, 1</tspan
><tspan x="478" dy="20">2, 0, 1, 0, 0, 0, 2, 1, 0, 2, 3, 1, 1, 3</tspan
><tspan x="478" dy="20">0, 1, 0, 2, 1, 3, 0, 2, 0, 1, 1, 0, 1, 0</tspan
><tspan x="478" dy="20">1, 1, 0, 1, 2, 1, 2, 1, 1, 0, 1, 2, 0, 0</tspan
><tspan x="478" dy="20">0, 0, 2, 1, 1, 0, 0, 2, 3, 0, 0, 0, 1, 0</tspan
><tspan x="478" dy="20">1, 1, 1, 1, 0, 0, 2, 1, 1, 2, 1, 1, 1, 0</tspan
><tspan x="478" dy="20">1, 0, 0, 1, 0, 0, 2, 1, 1, 0, 0, 2, 0, 1</tspan
><tspan x="478" dy="20">2, 1, 0, 2, 1, 0, 0, 0, 0, 0, 1, 2, 1, 1</tspan
><tspan x="478" dy="20">0, 1, 2, 4, 3, 2, 3, 1, 1, 1, 0, 1, 0, 1</tspan
><tspan x="478" dy="20">1, 0, 2, 2, 1, 1, 0, 0, 2, 1, 3, 1, 0, 0</tspan
><tspan x="478" dy="20">1, 1, 2, 1, 0, 0, 1, 3, 0, 4, 1, 0, 0, 0</tspan
><tspan x="478" dy="20">1, 1, 4, 0, 1, 1, 1, 1, 0, 0, 0, 2, 1, 0</tspan
><tspan x="478" dy="20">3, 0, 2, 1, 1, 1, 1, 1, 2, 1, 1, 0, 2, 0</tspan
><tspan x="478" dy="20">0, 1, 2, 2, 0, 0, 1, 0, 1, 0, 1, 3, 0, 0</tspan
><tspan x="478" dy="20">1, 2, 1, 0, 1, 1, 2, 1, 0, 0, 2, 1, 0, 1</tspan
><tspan x="478" dy="20">1, 0, 1, 2, 1, 1, 0, 1, 0, 0, 1, 1, 0, 3</tspan
><tspan x="478" dy="20">2, 1, 2, 1, 0, 2, 0, 1, 0, 0, 2, 0, 0, 1</tspan
><tspan x="478" dy="20">1, 2, 1, 2, 0, 2, 1, 0, 4, 2, 1, 0, 1, 0</tspan
><tspan x="478" dy="20">0, 0, 2, 0, 5, 0, 1, 0, 1, 0, 0, 0, 1, 2</tspan
><tspan x="478" dy="20">3, 3, 0, 0, 0, 1, 2, 2, 1, 1, 0, 1, 2, 0</tspan
><tspan x="478" dy="20">1, 0, 2, 0, 0, 2, 3, 0, 1, 0, 2, 1, 0, 1</tspan
><tspan x="478" dy="20">1, 0, 0, 1, 1, 1, 0, 2, 0, 2, 1, 0, 2, 3</tspan
><tspan x="478" dy="20">2, 3, 1, 0, 0, 1, 0, 0, 1, 0, 1, 0, 2, 2</tspan
><tspan x="478" dy="20">0, 2, 1, 1, 3, 3, 0, 2, 1, 2, 0, 0, 0, 2</tspan
><tspan x="478" dy="20">0, 2, 0, 1, 1, 3, 1, 0, 2, 0, 1, 2, 1, 3</tspan
><tspan x="478" dy="20">1, 1, 1, 2, 1, 0, 1, 0, 0, 4, 1, 2, 1, 2</tspan
><tspan x="478" dy="20">2, 0, 1, 0, 1, 0, 0, 0, 0, 2, 2, 1, 1, 1</tspan
><tspan x="478" dy="20">0, 0, 0, 0, 3, 2, 1, 1, 1, 1, 2, 2, 2, 1</tspan
><tspan x="478" dy="20">2, 0, 0, 2, 4, 0, 2, 1, 1, 0, 0, 0, 0, 0</tspan
><tspan x="478" dy="20">4, 0, 2, 0, 2, 1, 2, 1, 0, 2, 1, 1, 0, 2</tspan
><tspan x="478" dy="20">1, 0, 0, 1, 0, 0, 0, 1, 1, 0, 0, 0, 1, 1</tspan
><tspan x="478" dy="20">1, 1, 2, 2, 0, 0, 0, 0, 1, 1, 0, 0, 2, 0</tspan
><tspan x="478" dy="20">1, 1, 1, 0, 1, 1, 2, 3, 0, 1, 1, 0, 1, 0</tspan
><tspan x="478" dy="20">1, 0, 1, 3, 0, 2, 1, 1, 1, 2, 0, 1, 0, 1</tspan
><tspan x="478" dy="20">3, 2, 0, 0, 3, 1, 1, 0, 1, 2, 0, 3, 2, 1</tspan
><tspan x="478" dy="20">0, 1, 3, 0, 1, 1, 1, 3, 1, 0, 1, 3, 1, 2</tspan
><tspan x="478" dy="20">1, 0, 0, 2, 0, 0, 0, 2, 1, 0, 1, 1, 0, 3</tspan
><tspan x="478" dy="20">1, 2, 1, 1, 0, 0, 0, 0, 2, 0, 1, 7, 0, 1</tspan
><tspan x="478" dy="20">0, 0, 0, 2, 0, 0, 4, 3, 1, 0, 2, 1, 1, 0</tspan
><tspan x="478" dy="20">0, 0, 1, 0, 0, 1, 1, 1, 1, 0, 0, 0, 0, 3</tspan
><tspan x="478" dy="20">2, 1, 0, 2, 1, 0, 0, 2, 2, 1, 2, 4, 2, 0</tspan
><tspan x="478" dy="20">1, 0, 2, 1, 1, 0, 1, 0, 1, 1, 1, 2, 0, 2</tspan
><tspan x="478" dy="20">2, 0, 2, 0, 0, 2, 1, 2, 0, 0, 1, 1, 1, 1</tspan
><tspan x="478" dy="20">0, 3, 2, 0, 0, 3, 1, 3, 1, 0, 0, 2, 1, 0</tspan
><tspan x="478" dy="20">2, 1, 0, 0, 1, 0, 0, 2, 0, 0, 2, 0, 0, 0</tspan
><tspan x="478" dy="20">2, 0, 1, 0, 1, 2, 0, 4, 1, 0, 1, 0, 0, 0</tspan
><tspan x="478" dy="20">0, 0, 0, 2, 0, 0, 1, 1, 2, 1, 0, 0, 1, 1</tspan
><tspan x="478" dy="20">1, 1, 0, 1, 1, 1, 2, 0, 2, 0, 1, 2, 2, 0</tspan
><tspan x="478" dy="20">1, 0, 0, 2, 3, 0, 1, 2, 2, 0, 3, 0, 1, 0</tspan
><tspan x="478" dy="20">0, 1, 1, 1, 0, 0, 2, 1, 1, 2, 1, 2, 1, 1</tspan
><tspan x="478" dy="20">0, 0, 1, 1, 3, 1, 0, 1, 1, 0, 0]</tspan
><tspan x="478" dy="20">class = 옴진드기, 진드기증, 개선충, 옴 (Sarcoptic mange mites, acariasis, sarcoptes scabiei, scabies in dogs and cats)</tspan
></text>
</g>
<g id="node4">
<rect class="nb" x="978" y="3003" width="356" height="1448" rx="14" fill="#fdf5ef"/>
<text class="t" x="1156" y="3024"><tspan x="1156">미란 &lt;= 0.5</tspan
><tspan x="1156" dy="20">gini = 0.852</tspan
><tspan x="1156" dy="20">samples = 9</tspan
><tspan x="1156" dy="20">value = [0, 0, 0, 0, 0, 0, 0, 0, 0, 0, 0, 0, 0, 0</tspan
><tspan x="1156" dy="20">0, 0, 0, 0, 0, 0, 0, 0, 0, 4, 0, 0, 0, 0</tspan
><tspan x="1156" dy="20">0, 0, 0, 0, 0, 0, 0, 0, 0, 0, 0, 0, 0, 0</tspan
><tspan x="1156" dy="20">0, 0, 0, 0, 0, 0, 0, 0, 0, 0, 0, 0, 0, 0</tspan
><tspan x="1156" dy="20">0, 0, 0, 0, 0, 0, 0, 0, 0, 0, 0, 0, 0, 0</tspan
><tspan x="1156" dy="20">0, 0, 0, 0, 0, 0, 0, 0, 0, 0, 0, 0, 0, 0</tspan
><tspan x="1156" dy="20">0, 0, 0, 0, 0, 0, 0, 0, 0, 0, 0, 0, 0, 0</tspan
><tspan x="1156" dy="20">0, 0, 0, 0, 0, 0, 0, 0, 0, 0, 0, 0, 0, 0</tspan
><tspan x="1156" dy="20">0, 0, 0, 0, 0, 0, 0, 0, 0, 0, 0, 0, 0, 0</tspan
><tspan x="1156" dy="20">0, 0, 0, 0, 0, 0, 0, 0, 0, 0, 0, 0, 0, 0</tspan
><tspan x="1156" dy="20">0, 0, 0, 0, 0, 0, 0, 0, 0, 0, 0, 0, 0, 0</tspan
><tspan x="1156" dy="20">0, 0, 0, 0, 0, 0, 0, 0, 0, 0, 0, 0, 0, 0</tspan
><tspan x="1156" dy="20">0, 0, 0, 0, 0, 0, 0, 0, 0, 0, 0, 0, 0, 0</tspan
><tspan x="1156" dy="20">0, 0, 0, 0, 0, 0, 0, 0, 0, 0, 0, 0, 0, 0</tspan
><tspan x="1156" dy="20">0, 0, 0, 0, 0, 0, 0, 0, 0, 0, 0, 0, 0, 0</tspan
><tspan x="1156" dy="20">0, 0, 0, 0, 0, 0, 0, 0, 0, 0, 0, 0, 0, 0</tspan
><tspan x="1156" dy="20">0, 0, 0, 0, 0, 0, 0, 0, 0, 0, 1, 0, 1, 0</tspan
><tspan x="1156" dy="20">3, 0, 0, 0, 0, 0, 0, 0, 0, 0, 0, 0, 0, 0</tspan
><tspan x="1156" dy="20">0, 0, 0, 2, 0, 0, 0, 0, 0, 0, 0, 0, 0, 0</tspan
><tspan x="1156" dy="20">0, 0, 0, 0, 0, 0, 0, 0, 0, 0, 0, 0, 0, 0</tspan
><tspan x="1156" dy="20">0, 0, 0, 0, 0, 0, 0, 0, 0, 0, 0, 0, 0, 0</tspan
><tspan x="1156" dy="20">0, 0, 0, 0, 0, 0, 0, 0, 0, 0, 0, 0, 0, 0</tspan
><tspan x="1156" dy="20">0, 0, 0, 0, 0, 0, 0, 0, 0, 0, 0, 0, 0, 0</tspan
><tspan x="1156" dy="20">0, 0, 0, 0, 0, 0, 0, 0, 0, 0, 0, 0, 0, 0</tspan
><tspan x="1156" dy="20">0, 0, 0, 0, 0, 0, 0, 0, 0, 0, 0, 0, 0, 0</tspan
><tspan x="1156" dy="20">0, 0, 0, 0, 0, 0, 0, 0, 0, 0, 0, 0, 0, 0</tspan
><tspan x="1156" dy="20">0, 0, 0, 0, 0, 0, 0, 0, 0, 0, 0, 0, 0, 0</tspan
><tspan x="1156" dy="20">0, 0, 0, 0, 0, 0, 0, 0, 0, 0, 0, 0, 0, 0</tspan
><tspan x="1156" dy="20">0, 0, 0, 0, 0, 0, 0, 0, 0, 0, 0, 0, 0, 0</tspan
><tspan x="1156" dy="20">0, 0, 0, 0, 0, 0, 0, 0, 0, 0, 0, 0, 0, 0</tspan
><tspan x="1156" dy="20">0, 0, 0, 0, 0, 0, 0, 0, 0, 0, 0, 0, 0, 0</tspan
><tspan x="1156" dy="20">0, 0, 0, 0, 0, 0, 0, 0, 0, 0, 0, 0, 0, 0</tspan
><tspan x="1156" dy="20">0, 0, 0, 0, 0, 0, 0, 0, 0, 0, 0, 0, 0, 0</tspan
><tspan x="1156" dy="20">0, 0, 0, 0, 0, 0, 2, 0, 0, 0, 0, 0, 0, 0</tspan
><tspan x="1156" dy="20">0, 0, 0, 0, 1, 0, 0, 0, 0, 0, 0, 0, 0, 0</tspan
><tspan x="1156" dy="20">0, 0, 0, 0, 0, 0, 0, 0, 0, 0, 0, 0, 0, 0</tspan
><tspan x="1156" dy="20">0, 0, 0, 0, 0, 0, 0, 0, 0, 0, 0, 0, 0, 0</tspan
><tspan x="1156" dy="20">0, 0, 0, 0, 0, 0, 0, 0, 0, 0, 0, 0, 0, 0</tspan
><tspan x="1156" dy="20">0, 0, 0, 0, 0, 0, 0, 0, 0, 0, 0, 0, 0, 0</tspan
><tspan x="1156" dy="20">0, 0, 0, 0, 0, 0, 0, 0, 0, 0, 0, 0, 0, 0</tspan
><tspan x="1156" dy="20">0, 0, 0, 0, 0, 0, 0, 0, 0, 0, 0, 0, 0, 0</tspan
><tspan x="1156" dy="20">0, 0, 0, 0, 0, 0, 0, 0, 0, 0, 0, 0, 0, 0</tspan
><tspan x="1156" dy="20">0, 0, 0, 0, 0, 0, 0, 0, 0, 0, 0, 0, 0, 0</tspan
><tspan x="1156" dy="20">0, 0, 0, 0, 0, 0, 0, 0, 0, 0, 0, 0, 0, 0</tspan
><tspan x="1156" dy="20">0, 0, 0, 0, 0, 0, 0, 0, 0, 0, 0, 0, 0, 0</tspan
><tspan x="1156" dy="20">0, 0, 0, 0, 0, 0, 0, 0, 0, 0, 0, 0, 0, 0</tspan
><tspan x="1156" dy="20">0, 0, 0, 0, 0, 0, 0, 0, 0, 0, 0, 0, 0, 0</tspan
><tspan x="1156" dy="20">0, 0, 0, 0, 0, 0, 0, 0, 0, 0, 0, 0, 0, 0</tspan
><tspan x="1156" dy="20">0, 0, 0, 0, 0, 0, 0, 0, 0, 0, 0, 0, 0, 0</tspan
><tspan x="1156" dy="20">0, 0, 0, 0, 0, 0, 0, 0, 0, 0, 0, 0, 0, 0</tspan
><tspan x="1156" dy="20">0, 0, 0, 0, 0, 0, 0, 0, 0, 0, 0, 0, 0, 0</tspan
><tspan x="1156" dy="20">0, 0, 0, 0, 0, 0, 0, 0, 0, 0, 0, 0, 0, 0</tspan
><tspan x="1156" dy="20">0, 0, 0, 0, 0, 0, 0, 0, 0, 0, 0, 0, 0, 0</tspan
><tspan x="1156" dy="20">0, 0, 0, 0, 0, 0, 0, 0, 0, 0, 0, 0, 0, 0</tspan
><tspan x="1156" dy="20">0, 0, 0, 0, 0, 0, 0, 0, 0, 0, 0, 0, 0, 0</tspan
><tspan x="1156" dy="20">0, 0, 0, 0, 0, 0, 0, 0, 0, 0, 1, 0, 0, 0</tspan
><tspan x="1156" dy="20">0, 0, 0, 0, 0, 0, 0, 0, 0, 0, 0, 0, 0, 0</tspan
><tspan x="1156" dy="20">0, 0, 0, 0, 0, 0, 0, 0, 0, 0, 0, 0, 0, 0</tspan
><tspan x="1156" dy="20">0, 0, 0, 0, 0, 0, 0, 0, 0, 0, 0, 0, 0, 0</tspan
><tspan x="1156" dy="20">0, 0, 0, 0, 1, 0, 0, 0, 0, 0, 0, 0, 0, 0</tspan
><tspan x="1156" dy="20">0, 0, 0, 0, 0, 0, 0, 0, 0, 0, 0, 0, 0, 0</tspan
><tspan x="1156" dy="20">0, 0, 0, 0, 0, 0, 0, 0, 0, 0, 0, 0, 0, 0</tspan
><tspan x="1156" dy="20">0, 0, 0, 0, 0, 0, 0, 0, 0, 0, 0, 0, 0, 0</tspan
><tspan x="1156" dy="20">0, 0, 0, 0, 0, 0, 0, 0, 0, 0, 0, 0, 0, 0</tspan
><tspan x="1156" dy="20">0, 0, 0, 0, 0, 0, 0, 0, 0, 0, 0, 0, 0, 0</tspan
><tspan x="1156" dy="20">0, 0, 0, 0, 0, 0, 0, 0, 0, 0, 0, 0, 0, 0</tspan
><tspan x="1156" dy="20">0, 0, 0, 0, 0, 0, 0, 0, 0, 0, 0]</tspan
><tspan x="1156" dy="20">class = 수두증(Hydrocephalus)</tspan
></text>
</g>
<g id="node5">
<rect class="nb" x="1452" y="3003" width="775" height="1448" rx="14" fill="#dcf9e6"/>
<text class="t" x="1839.5" y="3024"><tspan x="1839.5">체중감소 &lt;= 0.5</tspan
><tspan x="1839.5" dy="20">gini = 0.75</tspan
><tspan x="1839.5" dy="20">samples = 5</tspan
><tspan x="1839.5" dy="20">value = [0, 0, 0, 0, 0, 0, 0, 0, 0, 0, 0, 0, 0, 0</tspan
><tspan x="1839.5" dy="20">0, 0, 0, 0, 0, 0, 0, 0, 0, 0, 0, 0, 0, 0</tspan
><tspan x="1839.5" dy="20">0, 0, 0, 0, 0, 0, 0, 0, 0, 0, 0, 0, 0, 0</tspan
><tspan x="1839.5" dy="20">0, 0, 0, 0, 0, 0, 0, 0, 0, 0, 0, 0, 0, 0</tspan
><tspan x="1839.5" dy="20">0, 0, 0, 0, 0, 0, 0, 0, 0, 0, 0, 0, 0, 0</tspan
><tspan x="1839.5" dy="20">0, 0, 0, 0, 0, 0, 0, 0, 0, 0, 0, 0, 0, 1</tspan
><tspan x="1839.5" dy="20">0, 0, 0, 0, 0, 0, 0, 0, 0, 0, 0, 0, 0, 0</tspan
><tspan x="1839.5" dy="20">0, 0, 0, 0, 0, 0, 0, 0, 0, 0, 0, 0, 0, 0</tspan
><tspan x="1839.5" dy="20">0, 0, 0, 0, 0, 0, 0, 0, 0, 0, 0, 0, 0, 0</tspan
><tspan x="1839.5" dy="20">0, 0, 0, 0, 0, 0, 0, 0, 0, 0, 0, 0, 0, 0</tspan
><tspan x="1839.5" dy="20">0, 0, 0, 0, 0, 0, 0, 0, 0, 0, 0, 0, 0, 0</tspan
><tspan x="1839.5" dy="20">0, 0, 0, 0, 0, 0, 0, 0, 0, 0, 0, 0, 0, 0</tspan
><tspan x="1839.5" dy="20">0, 0, 0, 0, 0, 0, 0, 0, 0, 0, 0, 0, 0, 0</tspan
><tspan x="1839.5" dy="20">0, 0, 0, 0, 0, 0, 0, 0, 0, 0, 0, 0, 0, 0</tspan
><tspan x="1839.5" dy="20">0, 0, 0, 0, 0, 0, 0, 0, 0, 0, 0, 0, 0, 0</tspan
><tspan x="1839.5" dy="20">0, 0, 0, 0, 0, 0, 0, 0, 0, 0, 0, 0, 0, 0</tspan
><tspan x="1839.5" dy="20">0, 0, 0, 0, 0, 0, 0, 0, 0, 0, 0, 0, 0, 0</tspan
><tspan x="1839.5" dy="20">0, 0, 0, 0, 0, 0, 0, 0, 0, 0, 0, 0, 0, 0</tspan
><tspan x="1839.5" dy="20">0, 0, 0, 0, 0, 0, 0, 0, 0, 0, 0, 0, 0, 0</tspan
><tspan x="1839.5" dy="20">0, 0, 0, 0, 0, 0, 0, 0, 0, 0, 0, 0, 0, 0</tspan
><tspan x="1839.5" dy="20">0, 0, 0, 0, 0, 0, 0, 0, 0, 0, 0, 0, 0, 0</tspan
><tspan x="1839.5" dy="20">0, 0, 0, 0, 0, 0, 0, 0, 0, 0, 0, 0, 0, 0</tspan
><tspan x="1839.5" dy="20">0, 0, 0, 0, 0, 3, 0, 0, 0, 0, 0, 0, 0, 0</tspan
><tspan x="1839.5" dy="20">0, 0, 0, 0, 0, 0, 0, 0, 0, 0, 0, 0, 0, 0</tspan
><tspan x="1839.5" dy="20">0, 0, 0, 0, 0, 0, 0, 0, 0, 1, 0, 0, 0, 0</tspan
><tspan x="1839.5" dy="20">0, 0, 0, 0, 0, 0, 0, 0, 0, 0, 0, 0, 0, 0</tspan
><tspan x="1839.5" dy="20">0, 0, 0, 0, 0, 0, 0, 0, 0, 0, 0, 0, 0, 0</tspan
><tspan x="1839.5" dy="20">0, 0, 0, 0, 0, 0, 0, 0, 0, 0, 0, 0, 0, 0</tspan
><tspan x="1839.5" dy="20">0, 0, 0, 0, 0, 0, 0, 0, 0, 0, 0, 0, 0, 0</tspan
><tspan x="1839.5" dy="20">0, 0, 0, 0, 0, 0, 0, 0, 0, 0, 0, 0, 0, 0</tspan
><tspan x="1839.5" dy="20">0, 0, 0, 0, 0, 0, 0, 0, 0, 0, 0, 0, 0, 0</tspan
><tspan x="1839.5" dy="20">0, 0, 0, 0, 0, 0, 0, 0, 0, 0, 0, 0, 0, 0</tspan
><tspan x="1839.5" dy="20">0, 0, 0, 0, 0, 0, 0, 0, 0, 0, 0, 0, 0, 0</tspan
><tspan x="1839.5" dy="20">0, 0, 0, 0, 0, 0, 0, 0, 0, 0, 0, 0, 0, 0</tspan
><tspan x="1839.5" dy="20">0, 0, 0, 0, 0, 0, 0, 0, 0, 0, 0, 0, 0, 0</tspan
><tspan x="1839.5" dy="20">0, 0, 0, 0, 0, 0, 0, 0, 0, 0, 0, 0, 0, 0</tspan
><tspan x="1839.5" dy="20">0, 0, 0, 0, 0, 0, 0, 0, 0, 0, 0, 0, 0, 0</tspan
><tspan x="1839.5" dy="20">0, 0, 0, 0, 0, 0, 0, 0, 0, 0, 0, 0, 0, 0</tspan
><tspan x="1839.5" dy="20">0, 0, 0, 0, 0, 0, 0, 0, 0, 0, 0, 0, 0, 0</tspan
><tspan x="1839.5" dy="20">0, 0, 0, 0, 0, 0, 0, 0, 0, 0, 0, 0, 0, 0</tspan
><tspan x="1839.5" dy="20">0, 0, 0, 0, 0, 0, 0, 0, 0, 0, 0, 0, 0, 0</tspan
><tspan x="1839.5" dy="20">0, 0, 0, 0, 0, 0, 0, 0, 0, 0, 0, 0, 0, 0</tspan
><tspan x="1839.5" dy="20">0, 0, 0, 0, 0, 0, 0, 0, 0, 0, 0, 0, 0, 0</tspan
><tspan x="1839.5" dy="20">0, 0, 0, 0, 0, 0, 0, 0, 0, 0, 0, 0, 0, 0</tspan
><tspan x="1839.5" dy="20">0, 0, 0, 0, 0, 0, 0, 0, 0, 0, 0, 0, 0, 0</tspan
><tspan x="1839.5" dy="20">0, 0, 0, 0, 0, 0, 0, 0, 0, 0, 0, 0, 0, 0</tspan
><tspan x="1839.5" dy="20">0, 0, 0, 0, 0, 0, 0, 0, 0, 0, 0, 0, 0, 0</tspan
><tspan x="1839.5" dy="20">0, 0, 0, 0, 0, 0, 0, 0, 0, 0, 0, 0, 0, 0</tspan
><tspan x="1839.5" dy="20">0, 0, 0, 0, 0, 0, 0, 0, 0, 0, 0, 0, 0, 0</tspan
><tspan x="1839.5" dy="20">0, 0, 0, 0, 0, 0, 0, 0, 0, 0, 0, 0, 0, 0</tspan
><tspan x="1839.5" dy="20">0, 0, 0, 0, 0, 0, 0, 0, 0, 0, 0, 0, 0, 0</tspan
><tspan x="1839.5" dy="20">0, 0, 0, 0, 0, 0, 0, 0, 0, 0, 0, 0, 0, 0</tspan
><tspan x="1839.5" dy="20">0, 0, 0, 0, 0, 0, 0, 0, 0, 0, 0, 0, 0, 0</tspan
><tspan x="1839.5" dy="20">0, 0, 0, 0, 0, 0, 0, 0, 0, 0, 0, 0, 0, 0</tspan
><tspan x="1839.5" dy="20">0, 0, 0, 0, 0, 0, 0, 0, 0, 0, 0, 0, 0, 0</tspan
><tspan x="1839.5" dy="20">0, 0, 0, 0, 0, 0, 0, 0, 0, 0, 0, 0, 0, 0</tspan
><tspan x="1839.5" dy="20">0, 0, 0, 0, 0, 0, 0, 0, 0, 0, 0, 0, 0, 0</tspan
><tspan x="1839.5" dy="20">0, 0, 0, 0, 0, 0, 0, 0, 0, 0, 0, 0, 0, 0</tspan
><tspan x="1839.5" dy="20">0, 0, 0, 0, 0, 0, 0, 0, 0, 0, 0, 0, 0, 0</tspan
><tspan x="1839.5" dy="20">0, 0, 0, 0, 0, 0, 0, 0, 0, 0, 0, 0, 0, 0</tspan
><tspan x="1839.5" dy="20">0, 0, 0, 0, 0, 0, 0, 0, 0, 0, 0, 0, 0, 0</tspan
><tspan x="1839.5" dy="20">0, 0, 0, 0, 0, 0, 2, 0, 0, 0, 0, 0, 0, 0</tspan
><tspan x="1839.5" dy="20">0, 0, 0, 0, 0, 0, 0, 0, 0, 0, 1, 0, 0, 0</tspan
><tspan x="1839.5" dy="20">0, 0, 0, 0, 0, 0, 0, 0, 0, 0, 0, 0, 0, 0</tspan
><tspan x="1839.5" dy="20">0, 0, 0, 0, 0, 0, 0, 0, 0, 0, 0, 0, 0, 0</tspan
><tspan x="1839.5" dy="20">0, 0, 0, 0, 0, 0, 0, 0, 0, 0, 0, 0, 0, 0</tspan
><tspan x="1839.5" dy="20">0, 0, 0, 0, 0, 0, 0, 0, 0, 0, 0]</tspan
><tspan x="1839.5" dy="20">class = 개와 고양이의 방종양성 다발성 신경장애 (Paraneoplastic polyneuropathy in dogs and cats)</tspan
></text>
</g>
<g id="node6">
<rect class="nb" x="2251" y="3003" width="554" height="1448" rx="14" fill="#6aebb6"/>
<text class="t" x="2528" y="3024"><tspan x="2528">피부농포 &lt;= 0.5</tspan
><tspan x="2528" dy="20">gini = 0.32</tspan
><tspan x="2528" dy="20">samples = 2</tspan
><tspan x="2528" dy="20">value = [0, 0, 0, 0, 0, 0, 0, 0, 0, 0, 0, 0, 0, 0</tspan
><tspan x="2528" dy="20">0, 0, 0, 0, 0, 0, 0, 0, 0, 0, 0, 0, 0, 0</tspan
><tspan x="2528" dy="20">0, 0, 0, 0, 0, 0, 0, 0, 0, 0, 0, 0, 0, 0</tspan
><tspan x="2528" dy="20">0, 0, 0, 0, 0, 0, 0, 0, 0, 0, 0, 0, 0, 0</tspan
><tspan x="2528" dy="20">0, 0, 0, 0, 0, 0, 0, 0, 0, 0, 0, 0, 0, 0</tspan
><tspan x="2528" dy="20">0, 0, 0, 0, 0, 0, 0, 0, 0, 0, 0, 0, 0, 0</tspan
><tspan x="2528" dy="20">0, 0, 0, 0, 0, 0, 0, 0, 0, 0, 0, 0, 0, 0</tspan
><tspan x="2528" dy="20">0, 0, 0, 0, 0, 0, 0, 0, 0, 0, 0, 0, 0, 0</tspan
><tspan x="2528" dy="20">0, 0, 0, 0, 0, 0, 0, 0, 0, 0, 0, 0, 0, 0</tspan
><tspan x="2528" dy="20">0, 0, 0, 0, 0, 0, 0, 0, 0, 0, 0, 0, 0, 0</tspan
><tspan x="2528" dy="20">0, 0, 0, 0, 0, 0, 0, 0, 0, 0, 0, 0, 0, 0</tspan
><tspan x="2528" dy="20">0, 0, 0, 0, 0, 0, 0, 0, 0, 0, 0, 0, 0, 0</tspan
><tspan x="2528" dy="20">0, 0, 0, 0, 0, 0, 0, 0, 0, 0, 0, 0, 0, 0</tspan
><tspan x="2528" dy="20">0, 0, 0, 0, 0, 0, 0, 0, 0, 0, 0, 0, 0, 0</tspan
><tspan x="2528" dy="20">0, 0, 0, 0, 0, 0, 0, 0, 0, 0, 0, 0, 0, 0</tspan
><tspan x="2528" dy="20">0, 0, 0, 0, 0, 0, 0, 0, 0, 0, 0, 0, 0, 0</tspan
><tspan x="2528" dy="20">0, 0, 0, 0, 0, 0, 0, 0, 0, 0, 0, 0, 0, 0</tspan
><tspan x="2528" dy="20">0, 0, 0, 0, 0, 0, 0, 0, 0, 0, 0, 0, 0, 0</tspan
><tspan x="2528" dy="20">0, 0, 0, 0, 0, 0, 0, 0, 0, 0, 0, 0, 0, 0</tspan
><tspan x="2528" dy="20">0, 0, 0, 0, 0, 0, 0, 0, 0, 0, 0, 0, 0, 0</tspan
><tspan x="2528" dy="20">0, 0, 0, 0, 0, 0, 0, 0, 0, 0, 0, 0, 0, 0</tspan
><tspan x="2528" dy="20">0, 0, 0, 0, 0, 0, 0, 0, 0, 0, 0, 0, 0, 0</tspan
><tspan x="2528" dy="20">0, 0, 0, 0, 0, 0, 0, 0, 0, 0, 0, 0, 0, 0</tspan
><tspan x="2528" dy="20">0, 0, 0, 0, 0, 0, 0, 0, 0, 0, 0, 0, 0, 0</tspan
><tspan x="2528" dy="20">0, 0, 0, 0, 0, 0, 0, 0, 4, 0, 0, 0, 0, 0</tspan
><tspan x="2528" dy="20">0, 0, 0, 0, 0, 0, 0, 0, 0, 0, 0, 0, 0, 0</tspan
><tspan x="2528" dy="20">0, 0, 0, 0, 0, 0, 0, 0, 0, 0, 0, 0, 0, 0</tspan
><tspan x="2528" dy="20">0, 0, 0, 0, 0, 0, 0, 0, 0, 0, 0, 0, 0, 0</tspan
><tspan x="2528" dy="20">0, 0, 0, 0, 0, 0, 0, 0, 0, 0, 0, 0, 0, 0</tspan
><tspan x="2528" dy="20">0, 0, 0, 0, 0, 0, 0, 0, 0, 0, 0, 0, 0, 0</tspan
><tspan x="2528" dy="20">0, 0, 0, 0, 0, 0, 0, 0, 0, 0, 0, 0, 0, 0</tspan
><tspan x="2528" dy="20">0, 0, 0, 0, 0, 0, 0, 0, 0, 0, 0, 0, 0, 0</tspan
><tspan x="2528" dy="20">0, 0, 0, 0, 0, 0, 0, 0, 0, 0, 0, 0, 0, 0</tspan
><tspan x="2528" dy="20">0, 0, 0, 0, 0, 0, 0, 0, 0, 0, 0, 0, 0, 0</tspan
><tspan x="2528" dy="20">0, 0, 0, 0, 0, 0, 0, 0, 0, 0, 0, 0, 0, 0</tspan
><tspan x="2528" dy="20">0, 0, 0, 0, 0, 0, 0, 0, 0, 0, 0, 0, 0, 0</tspan
><tspan x="2528" dy="20">0, 0, 0, 0, 0, 0, 0, 0, 0, 0, 0, 0, 0, 0</tspan
><tspan x="2528" dy="20">0, 0, 0, 0, 0, 0, 0, 0, 0, 0, 0, 0, 0, 0</tspan
><tspan x="2528" dy="20">0, 0, 0, 0, 0, 0, 0, 0, 0, 0, 0, 0, 0, 0</tspan
><tspan x="2528" dy="20">0, 0, 0, 0, 0, 0, 0, 0, 0, 0, 1, 0, 0, 0</tspan
><tspan x="2528" dy="20">0, 0, 0, 0, 0, 0, 0, 0, 0, 0, 0, 0, 0, 0</tspan
><tspan x="2528" dy="20">0, 0, 0, 0, 0, 0, 0, 0, 0, 0, 0, 0, 0, 0</tspan
><tspan x="2528" dy="20">0, 0, 0, 0, 0, 0, 0, 0, 0, 0, 0, 0, 0, 0</tspan
><tspan x="2528" dy="20">0, 0, 0, 0, 0, 0, 0, 0, 0, 0, 0, 0, 0, 0</tspan
><tspan x="2528" dy="20">0, 0, 0, 0, 0, 0, 0, 0, 0, 0, 0, 0, 0, 0</tspan
><tspan x="2528" dy="20">0, 0, 0, 0, 0, 0, 0, 0, 0, 0, 0, 0, 0, 0</tspan
><tspan x="2528" dy="20">0, 0, 0, 0, 0, 0, 0, 0, 0, 0, 0, 0, 0, 0</tspan
><tspan x="2528" dy="20">0, 0, 0, 0, 0, 0, 0, 0, 0, 0, 0, 0, 0, 0</tspan
><tspan x="2528" dy="20">0, 0, 0, 0, 0, 0, 0, 0, 0, 0, 0, 0, 0, 0</tspan
><tspan x="2528" dy="20">0, 0, 0, 0, 0, 0, 0, 0, 0, 0, 0, 0, 0, 0</tspan
><tspan x="2528" dy="20">0, 0, 0, 0, 0, 0, 0, 0, 0, 0, 0, 0, 0, 0</tspan
><tspan x="2528" dy="20">0, 0, 0, 0, 0, 0, 0, 0, 0, 0, 0, 0, 0, 0</tspan
><tspan x="2528" dy="20">0, 0, 0, 0, 0, 0, 0, 0, 0, 0, 0, 0, 0, 0</tspan
><tspan x="2528" dy="20">0, 0, 0, 0, 0, 0, 0, 0, 0, 0, 0, 0, 0, 0</tspan
><tspan x="2528" dy="20">0, 0, 0, 0, 0, 0, 0, 0, 0, 0, 0, 0, 0, 0</tspan
><tspan x="2528" dy="20">0, 0, 0, 0, 0, 0, 0, 0, 0, 0, 0, 0, 0, 0</tspan
><tspan x="2528" dy="20">0, 0, 0, 0, 0, 0, 0, 0, 0, 0, 0, 0, 0, 0</tspan
><tspan x="2528" dy="20">0, 0, 0, 0, 0, 0, 0, 0, 0, 0, 0, 0, 0, 0</tspan
><tspan x="2528" dy="20">0, 0, 0, 0, 0, 0, 0, 0, 0, 0, 0, 0, 0, 0</tspan
><tspan x="2528" dy="20">0, 0, 0, 0, 0, 0, 0, 0, 0, 0, 0, 0, 0, 0</tspan
><tspan x="2528" dy="20">0, 0, 0, 0, 0, 0, 0, 0, 0, 0, 0, 0, 0, 0</tspan
><tspan x="2528" dy="20">0, 0, 0, 0, 0, 0, 0, 0, 0, 0, 0, 0, 0, 0</tspan
><tspan x="2528" dy="20">0, 0, 0, 0, 0, 0, 0, 0, 0, 0, 0, 0, 0, 0</tspan
><tspan x="2528" dy="20">0, 0, 0, 0, 0, 0, 0, 0, 0, 0, 0, 0, 0, 0</tspan
><tspan x="2528" dy="20">0, 0, 0, 0, 0, 0, 0, 0, 0, 0, 0, 0, 0, 0</tspan
><tspan x="2528" dy="20">0, 0, 0, 0, 0, 0, 0, 0, 0, 0, 0, 0, 0, 0</tspan
><tspan x="2528" dy="20">0, 0, 0, 0, 0, 0, 0, 0, 0, 0, 0]</tspan
><tspan x="2528" dy="20">class = 아밀로이드성 치아종 (Amyloid-producing odontogenic tumor)</tspan
></text>
</g>
<g id="node7"><rect class="gr" x="394" y="4501" width="72" height="49" rx="12"/><text class="t" x="430" y="4532">(...)</text></g>
<g id="node8"><rect class="gr" x="489" y="4501" width="72" height="49" rx="12"/><text class="t" x="525" y="4532">(...)</text></g>
<g id="node9"><rect class="gr" x="1072" y="4501" width="72" height="49" rx="12"/><text class="t" x="1108" y="4532">(...)</text></g>
<g id="node10"><rect class="gr" x="1167" y="4501" width="72" height="49" rx="12"/><text class="t" x="1203" y="4532">(...)</text></g>
<g id="node11"><rect class="gr" x="1755" y="4501" width="72" height="49" rx="12"/><text class="t" x="1791" y="4532">(...)</text></g>
<g id="node12"><rect class="gr" x="1850" y="4501" width="72" height="49" rx="12"/><text class="t" x="1886" y="4532">(...)</text></g>
<g id="node13"><rect class="gr" x="2446" y="4501" width="72" height="49" rx="12"/><text class="t" x="2482" y="4532">(...)</text></g>
<g id="node14"><rect class="gr" x="2542" y="4501" width="72" height="49" rx="12"/><text class="t" x="2578" y="4532">(...)</text></g>
</g>
</svg>
